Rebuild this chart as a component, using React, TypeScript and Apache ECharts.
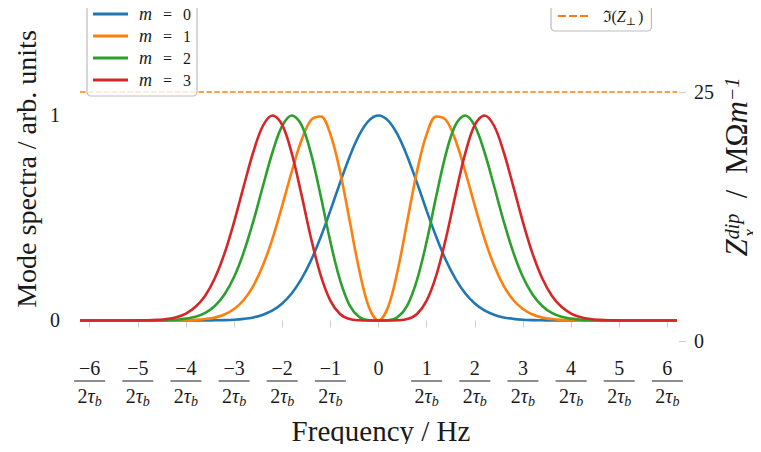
import React, { useEffect, useRef } from "react";
import * as echarts from "echarts";

// Frequency in units of 1/(2 tau_b)
const freqs = [
  -6.2, -6.0, -5.8, -5.6, -5.4, -5.2, -5.0, -4.8, -4.6, -4.4, -4.2, -4.0, -3.8, -3.6, -3.4, -3.2,
  -3.0, -2.8, -2.6, -2.4, -2.2, -2.0, -1.8, -1.6, -1.4, -1.2, -1.0, -0.8, -0.6, -0.4, -0.2, 0,
  0.2, 0.4, 0.6, 0.8, 1.0, 1.2, 1.4, 1.6, 1.8, 2.0, 2.2, 2.4, 2.6, 2.8, 3.0, 3.2,
  3.4, 3.6, 3.8, 4.0, 4.2, 4.4, 4.6, 4.8, 5.0, 5.2, 5.4, 5.6, 5.8, 6.0, 6.2,
];

const mode0 = [
  0, 0, 0, 0, 0, 0, 0, 0, 0, 0, 0, 0, 0, 0, 0.001, 0.002,
  0.004, 0.008, 0.015, 0.028, 0.049, 0.083, 0.133, 0.203, 0.294, 0.407, 0.536, 0.671, 0.799, 0.905, 0.975, 1,
  0.975, 0.905, 0.799, 0.671, 0.536, 0.407, 0.294, 0.203, 0.133, 0.083, 0.049, 0.028, 0.015, 0.008, 0.004, 0.002,
  0.001, 0, 0, 0, 0, 0, 0, 0, 0, 0, 0, 0, 0, 0, 0,
];

const mode1 = [
  0, 0, 0, 0, 0, 0, 0, 0, 0, 0, 0.0005, 0.001, 0.003, 0.007, 0.014, 0.029,
  0.056, 0.1, 0.169, 0.269, 0.401, 0.56, 0.728, 0.879, 0.978, 0.995, 0.909, 0.728, 0.488, 0.246, 0.066, 0,
  0.066, 0.246, 0.488, 0.728, 0.909, 0.995, 0.978, 0.879, 0.728, 0.56, 0.401, 0.269, 0.169, 0.1, 0.056, 0.029,
  0.014, 0.007, 0.003, 0.001, 0.0005, 0, 0, 0, 0, 0, 0, 0, 0, 0, 0,
];

const mode2 = [
  0, 0, 0, 0, 0, 0, 0, 0.0002, 0.0006, 0.0015, 0.004, 0.009, 0.018, 0.037, 0.071, 0.127,
  0.212, 0.332, 0.484, 0.656, 0.822, 0.949, 1.0, 0.954, 0.813, 0.607, 0.385, 0.198, 0.074, 0.017, 0.001, 0,
  0.001, 0.017, 0.074, 0.198, 0.385, 0.607, 0.813, 0.954, 1.0, 0.949, 0.822, 0.656, 0.484, 0.332, 0.212, 0.127,
  0.071, 0.037, 0.018, 0.009, 0.004, 0.0015, 0.0006, 0.0002, 0, 0, 0, 0, 0, 0, 0,
];

const mode3 = [
  0, 0, 0, 0, 0, 0.0002, 0.0005, 0.001, 0.003, 0.007, 0.016, 0.034, 0.067, 0.121, 0.206, 0.326,
  0.48, 0.654, 0.822, 0.95, 1.0, 0.954, 0.814, 0.614, 0.4, 0.22, 0.097, 0.032, 0.007, 0.001, 0, 0,
  0, 0.001, 0.007, 0.032, 0.097, 0.22, 0.4, 0.614, 0.814, 0.954, 1.0, 0.95, 0.822, 0.654, 0.48, 0.326,
  0.206, 0.121, 0.067, 0.034, 0.016, 0.007, 0.003, 0.001, 0.0005, 0.0002, 0, 0, 0, 0, 0,
];

const impedanceFreqs = [-6.2, 6.2];
const impedanceValues = [25, 25];

const modeNames = ["m = 0", "m = 1", "m = 2", "m = 3"];
const impedanceName = "Im(Z_perp)";

const xTicks = [-6, -5, -4, -3, -2, -1, 0, 1, 2, 3, 4, 5, 6];
const xTickNumerators = ["−6", "−5", "−4", "−3", "−2", "−1", "0", "1", "2", "3", "4", "5", "6"];
const leftTicks = [0, 1];
const rightTicks = [0, 25];

const colors = ["#1f77b4", "#ff7f0e", "#2ca02c", "#d62728"];
const SERIF = "'Liberation Serif', 'DejaVu Serif', serif";
const TXT = "#1a1a1a";

export default function App() {
  const ref = useRef<HTMLDivElement>(null);

  useEffect(() => {
    if (!ref.current) return;
    const chart = echarts.init(ref.current, undefined, { renderer: "svg" });
    const modes = [mode0, mode1, mode2, mode3];

    const lineSeries = modes.map((vals, k) => ({
      name: modeNames[k],
      type: "line",
      xAxisIndex: 0,
      yAxisIndex: 0,
      data: freqs.map((f, i) => [f, vals[i]]),
      showSymbol: false,
      symbol: "none",
      smooth: 0.35,
      lineStyle: { color: colors[k], width: 2.6 },
      itemStyle: { color: colors[k] },
      z: 2 + k,
    }));

    const tickStyle = { length: 7, lineStyle: { color: "#cfcfcf", width: 1 } };

    const option: any = {
      animation: false,
      backgroundColor: "#ffffff",
      grid: { left: 80, right: 84, top: 10, bottom: 111 },
      xAxis: {
        type: "value",
        min: -6.2,
        max: 6.2,
        offset: 2,
        axisLine: { show: false },
        splitLine: { show: false },
        axisTick: { show: true, customValues: xTicks, ...tickStyle },
        axisLabel: {
          customValues: xTicks,
          margin: 15,
          color: TXT,
          fontFamily: SERIF,
          formatter: (v: number) => {
            const idx = xTicks.indexOf(Math.round(v));
            const num = xTickNumerators[idx];
            if (Math.round(v) === 0) return "{z|" + num + "}";
            return "{n|" + num + "}\n{bar| }\n{d|2}{dt|τ}{s|b}";
          },
          rich: {
            z: { fontFamily: SERIF, fontSize: 20, lineHeight: 20, color: TXT },
            n: { fontFamily: SERIF, fontSize: 20, lineHeight: 20, color: TXT },
            bar: { width: 31, height: 1, lineHeight: 6, fontSize: 2, backgroundColor: TXT },
            d: { fontFamily: SERIF, fontSize: 20, lineHeight: 24, color: TXT, verticalAlign: "middle" },
            dt: { fontFamily: SERIF, fontSize: 20, lineHeight: 24, fontStyle: "italic", color: TXT, verticalAlign: "middle" },
            s: { fontFamily: SERIF, fontSize: 14, lineHeight: 24, fontStyle: "italic", color: TXT, verticalAlign: "bottom" },
          },
        },
      },
      yAxis: [
        {
          type: "value",
          position: "left",
          min: -0.1,
          max: 1.5146,
          axisLine: { show: false },
          splitLine: { show: false },
          axisTick: { show: true, customValues: leftTicks, ...tickStyle },
          axisLabel: { customValues: leftTicks, margin: 20, fontSize: 20, fontFamily: SERIF, color: TXT },
        },
        {
          type: "value",
          position: "right",
          min: 0,
          max: 33.23,
          offset: 2,
          axisLine: { show: false },
          splitLine: { show: false },
          axisTick: { show: true, customValues: rightTicks, ...tickStyle },
          axisLabel: { customValues: rightTicks, margin: 15, fontSize: 20, fontFamily: SERIF, color: TXT },
        },
      ],
      legend: [
        {
          data: modeNames,
          orient: "vertical",
          left: 87,
          top: 2,
          padding: [3, 6, 7, 6],
          icon: "rect",
          itemWidth: 35,
          itemHeight: 3,
          itemGap: 4,
          backgroundColor: "rgba(255,255,255,0.8)",
          borderColor: "#bdbdbd",
          borderWidth: 1.2,
          borderRadius: 4,
          formatter: (name: string) => "{i|m}{e|=}{n|" + name.slice(-1) + "}",
          textStyle: {
            fontFamily: SERIF,
            fontSize: 15,
            lineHeight: 16,
            color: TXT,
            rich: {
              i: { fontFamily: SERIF, fontSize: 18, lineHeight: 16, fontStyle: "italic", color: TXT, padding: [0, 0, 0, 6] },
              e: { fontFamily: SERIF, fontSize: 16, lineHeight: 16, color: TXT, padding: [0, 11, 0, 11] },
              n: { fontFamily: SERIF, fontSize: 16, lineHeight: 16, color: TXT },
            },
          },
        },
        {
          data: [impedanceName],
          orient: "vertical",
          left: 551,
          top: 2,
          padding: [4, 8, 5, 7],
          icon: "path://M0,0h8v2h-8z M11,0h8v2h-8z M22,0h8v2h-8z",
          itemWidth: 31,
          itemHeight: 2,
          backgroundColor: "rgba(255,255,255,0.8)",
          borderColor: "#bdbdbd",
          borderWidth: 1.2,
          borderRadius: 4,
          formatter: () => "{n|ℑ(}{i|Z}{s|⊥}{p|)}",
          textStyle: {
            fontFamily: SERIF,
            fontSize: 15,
            lineHeight: 20,
            color: TXT,
            rich: {
              n: { fontFamily: SERIF, fontSize: 16, color: TXT, padding: [0, 0, 0, 9], lineHeight: 20 },
              p: { fontFamily: SERIF, fontSize: 16, color: TXT, lineHeight: 20, padding: [0, 0, 0, 2] },
              i: { fontFamily: SERIF, fontSize: 16, fontStyle: "italic", color: TXT, lineHeight: 20 },
              s: { fontFamily: SERIF, fontSize: 11, color: TXT, lineHeight: 20, verticalAlign: "bottom" },
            },
          },
        },
      ],
      series: [
        ...lineSeries,
        {
          name: impedanceName,
          type: "line",
          xAxisIndex: 0,
          yAxisIndex: 1,
          data: impedanceFreqs.map((f, i) => [f, impedanceValues[i]]),
          showSymbol: false,
          symbol: "none",
          lineStyle: { color: "#ff7f0e", width: 1.6, type: [5.5, 2.4] },
          itemStyle: { color: "#ff7f0e" },
          z: 1,
        },
      ],
      graphic: [
        {
          type: "text",
          x: 26,
          y: 169,
          rotation: Math.PI / 2,
          style: {
            text: "Mode spectra / arb. units",
            fontFamily: SERIF,
            fontSize: 28,
            fill: TXT,
            align: "center",
            verticalAlign: "middle",
          },
        },
        {
          type: "text",
          x: 381,
          y: 431,
          style: {
            text: "Frequency / Hz",
            fontFamily: SERIF,
            fontSize: 29,
            fill: TXT,
            align: "center",
            verticalAlign: "middle",
          },
        },
        {
          type: "group",
          x: 737,
          y: 167,
          rotation: Math.PI / 2,
          children: [
            {
              type: "text",
              x: 0,
              y: 0,
              style: {
                text: "{z|Z}{sup|dip}{n|  /  MΩ}{z|m}{sup|−1}",
                align: "center",
                verticalAlign: "middle",
                rich: {
                  z: { fontFamily: SERIF, fontSize: 31, fontStyle: "italic", fill: TXT, lineHeight: 30, verticalAlign: "bottom" },
                  n: { fontFamily: SERIF, fontSize: 31, fill: TXT, lineHeight: 30, verticalAlign: "bottom" },
                  sup: { fontFamily: SERIF, fontSize: 20, fontStyle: "italic", fill: TXT, lineHeight: 30, verticalAlign: "top" },
                },
              },
            },
            {
              type: "text",
              x: -70,
              y: 13,
              style: {
                text: "x",
                fontFamily: SERIF,
                fontSize: 18,
                lineHeight: 14,
                fontStyle: "italic",
                fill: TXT,
                align: "left",
                verticalAlign: "middle",
              },
            },
          ],
        },
      ],
    };

    chart.setOption(option);
    return () => chart.dispose();
  }, []);

  return <div ref={ref} style={{ width: 761, height: 452, margin: -8 }} />;
}
